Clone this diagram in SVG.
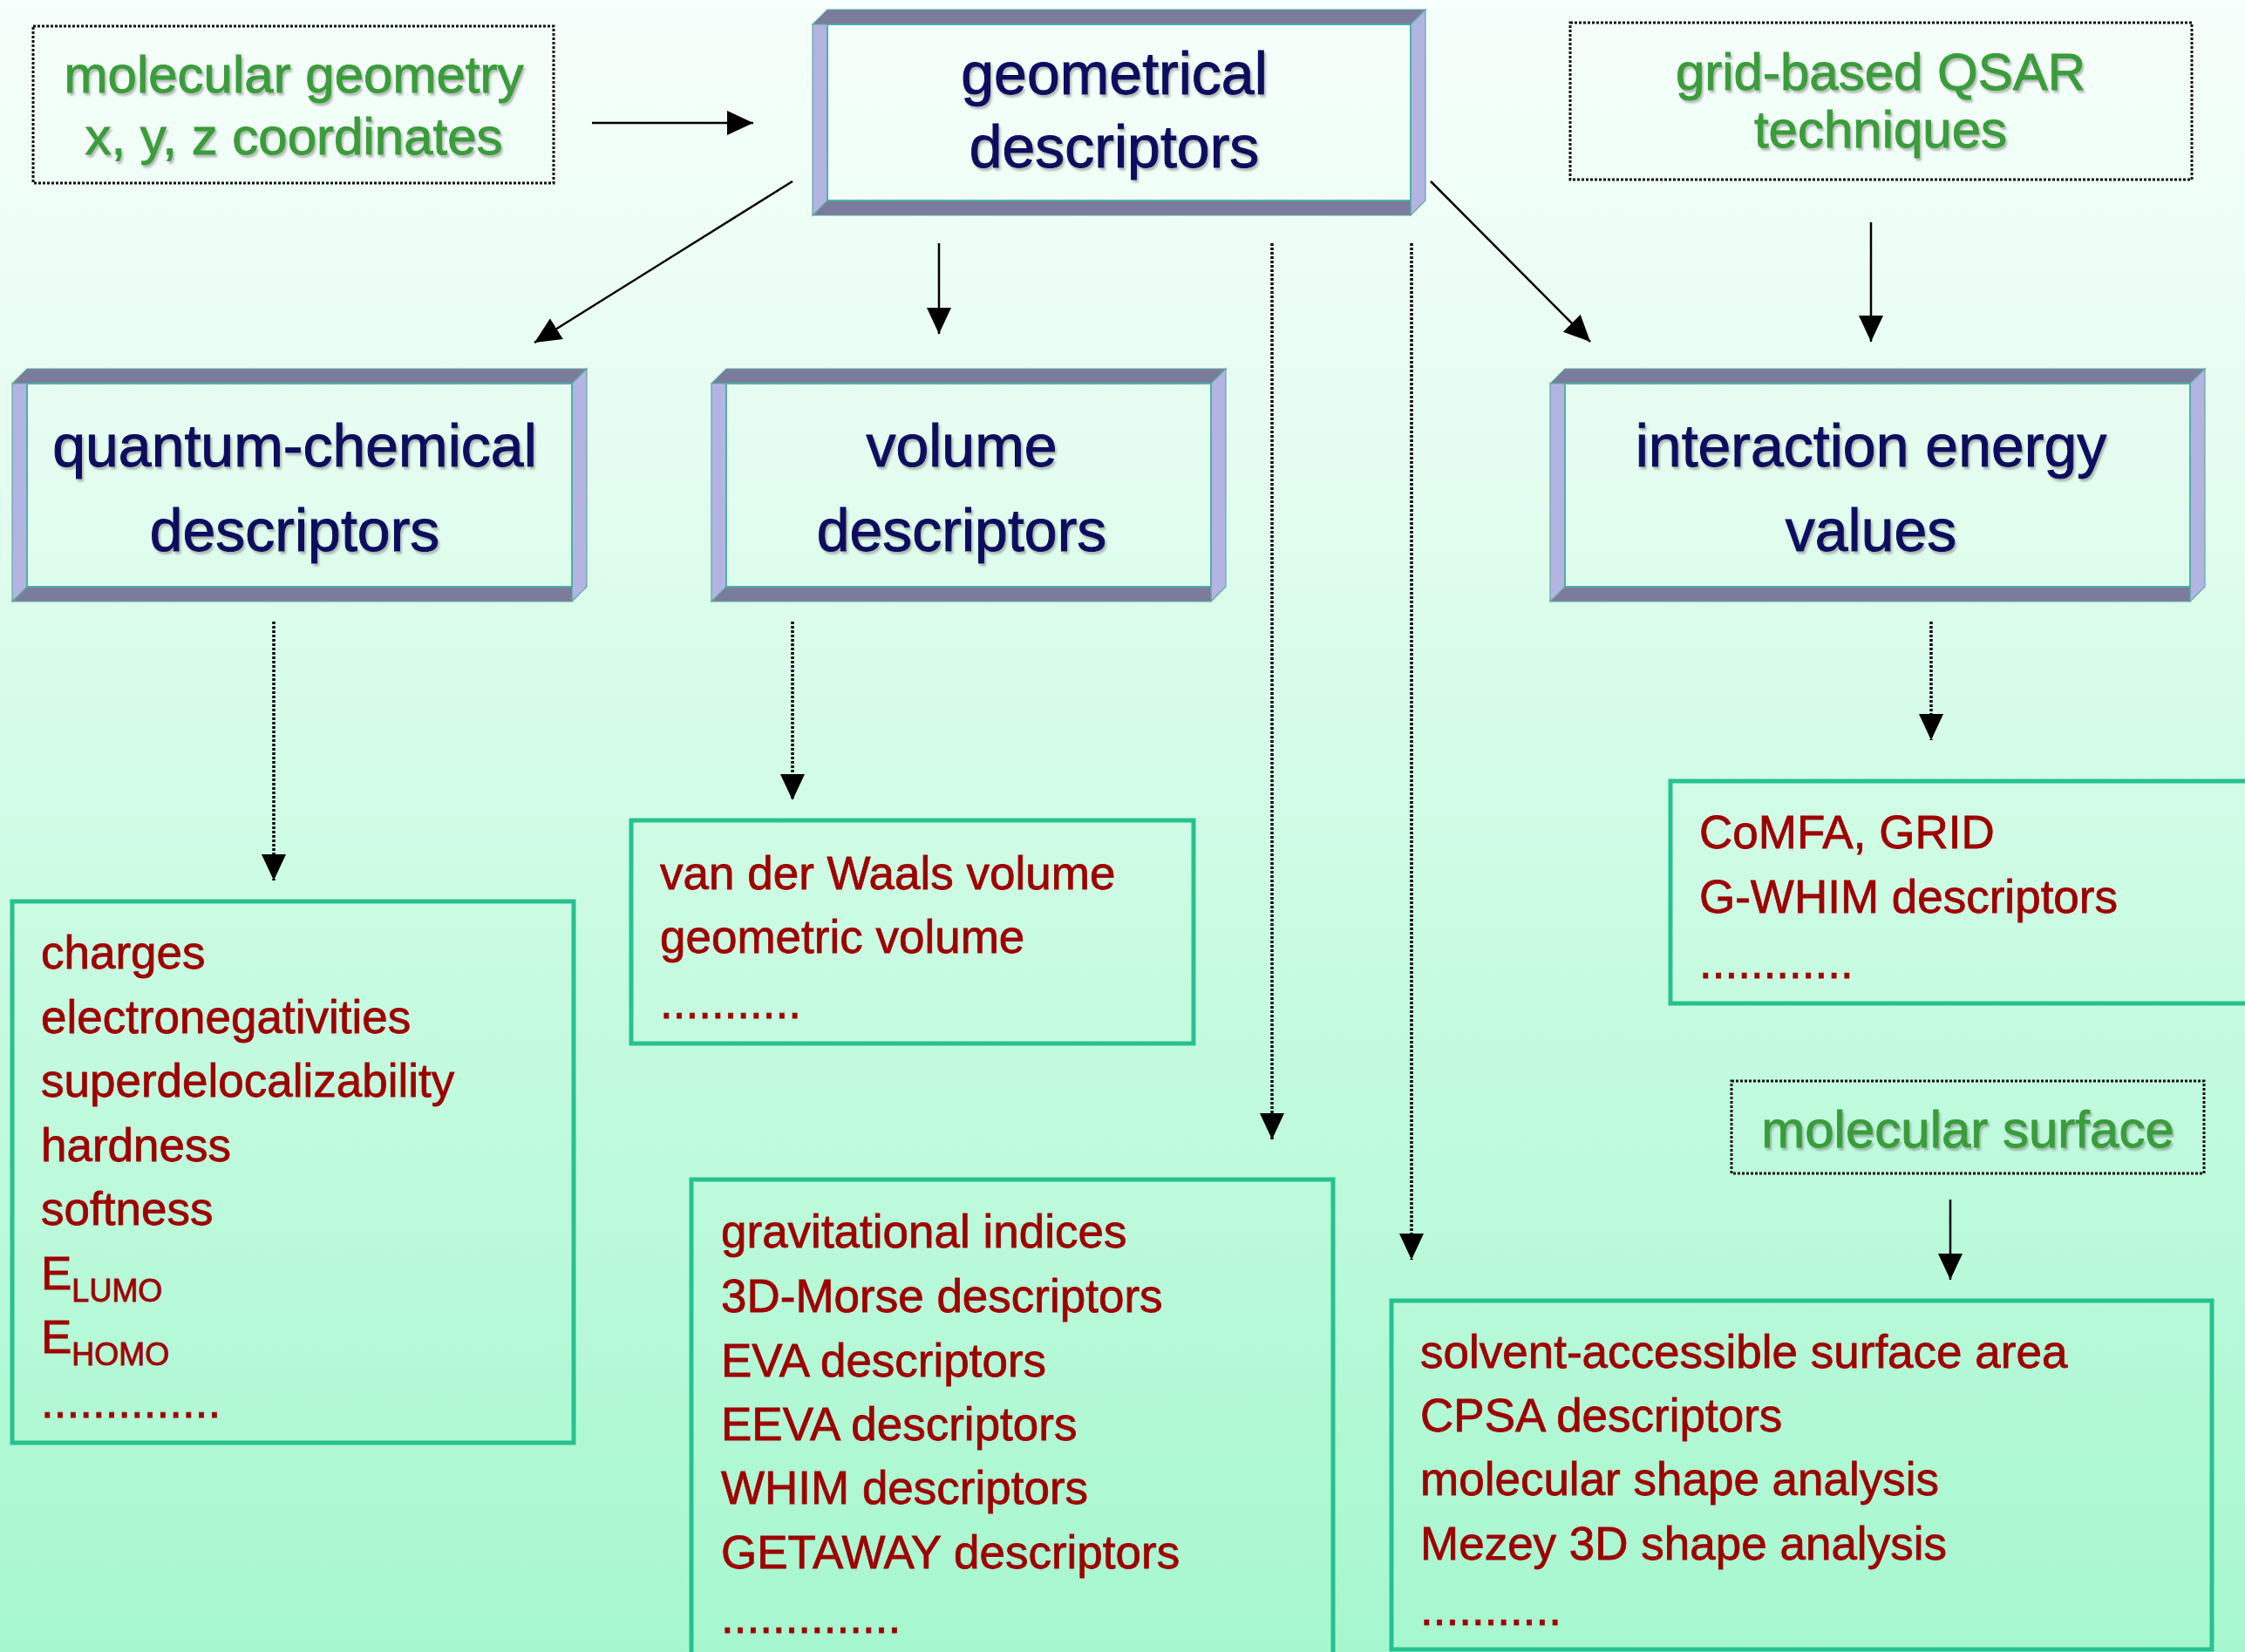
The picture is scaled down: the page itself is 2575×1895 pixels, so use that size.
<svg xmlns="http://www.w3.org/2000/svg" width="2575" height="1895" viewBox="0 0 2575 1895">
  <defs>
    <linearGradient id="bg" x1="0" y1="0" x2="0" y2="1">
      <stop offset="0" stop-color="#f6fffb"/>
      <stop offset="0.25" stop-color="#e7fdf1"/>
      <stop offset="0.6" stop-color="#c6fbe1"/>
      <stop offset="1" stop-color="#a6f7cf"/>
    </linearGradient>
    <filter id="shadow" x="-5%" y="-20%" width="110%" height="140%">
      <feDropShadow dx="2" dy="3" stdDeviation="1.2" flood-color="#6a6a6a" flood-opacity="0.45"/>
    </filter>
    <marker id="arrow" viewBox="0 0 30 28" markerWidth="30" markerHeight="28" refX="30" refY="14" orient="auto" markerUnits="userSpaceOnUse">
      <path d="M0,0 L30,14 L0,28 Z" fill="#000"/>
    </marker>
  </defs>
  <style>
    text { font-family: "Liberation Sans", Arial, Helvetica, sans-serif; }
    .green { font-size: 60px; fill: #3a9c3a; stroke: #3a9c3a; stroke-width: 0.9; text-anchor: middle; filter: url(#shadow); }
    .navy { font-size: 68px; fill: #0a0a5e; stroke: #0a0a5e; stroke-width: 1; text-anchor: middle; filter: url(#shadow); }
    .red { font-size: 53px; fill: #9e0000; stroke: #9e0000; stroke-width: 0.8; }
    .sub { font-size: 36px; }
    .dark { fill: #7b7b9b; stroke: #5fa9a3; stroke-width: 1.2; }
    .light { fill: #b4b4e2; stroke: #5fa9a3; stroke-width: 1.2; }
    .face { fill: none; stroke: #4fb0a8; stroke-width: 2; }
    .list { fill: none; stroke: #27c190; stroke-width: 5; }
    .dashbox { fill: none; stroke: #111; stroke-width: 3; stroke-dasharray: 3 2; }
    .solid { stroke: #000; stroke-width: 2.5; fill: none; marker-end: url(#arrow); }
    .dotted { stroke: #000; stroke-width: 3.5; stroke-dasharray: 3 2; fill: none; marker-end: url(#arrow); }
  </style>

  <rect x="0" y="0" width="2575" height="1895" fill="url(#bg)"/>

  <!-- source: molecular geometry -->
  <g id="molecular-geometry">
    <rect class="dashbox" x="38" y="30" width="597" height="180"/>
    <text class="green" x="337" y="106">molecular geometry</text>
    <text class="green" x="337" y="177">x, y, z coordinates</text>
  </g>

  <!-- central node: geometrical descriptors -->
  <g id="geometrical-descriptors">
    <polygon class="dark" points="949,11 1635,11 1618,28 932,28"/>
    <polygon class="light" points="1618,28 1635,11 1635,230 1618,247"/>
    <polygon class="dark" points="932,247 949,230 1618,230 1618,247"/>
    <polygon class="light" points="932,28 949,28 949,230 932,247"/>
    <rect class="face" x="949" y="28" width="669" height="202"/>
    <text class="navy" x="1278" y="108">geometrical</text>
    <text class="navy" x="1278" y="192">descriptors</text>
  </g>

  <!-- source: grid-based QSAR techniques -->
  <g id="grid-based-qsar">
    <rect class="dashbox" x="1801" y="26" width="713" height="180"/>
    <text class="green" x="2157" y="103">grid-based QSAR</text>
    <text class="green" x="2157" y="169">techniques</text>
  </g>

  <!-- quantum-chemical descriptors -->
  <g id="quantum-chemical">
    <polygon class="dark" points="31,423 673,423 656,440 14,440"/>
    <polygon class="light" points="656,440 673,423 673,673 656,690"/>
    <polygon class="dark" points="14,690 31,673 656,673 656,690"/>
    <polygon class="light" points="14,440 31,440 31,673 14,690"/>
    <rect class="face" x="31" y="440" width="625" height="233"/>
    <text class="navy" x="338" y="535">quantum-chemical</text>
    <text class="navy" x="338" y="632">descriptors</text>
  </g>

  <!-- volume descriptors -->
  <g id="volume">
    <polygon class="dark" points="833,423 1406,423 1389,440 816,440"/>
    <polygon class="light" points="1389,440 1406,423 1406,673 1389,690"/>
    <polygon class="dark" points="816,690 833,673 1389,673 1389,690"/>
    <polygon class="light" points="816,440 833,440 833,673 816,690"/>
    <rect class="face" x="833" y="440" width="556" height="233"/>
    <text class="navy" x="1103" y="535">volume</text>
    <text class="navy" x="1103" y="632">descriptors</text>
  </g>

  <!-- interaction energy values -->
  <g id="interaction-energy">
    <polygon class="dark" points="1795,423 2529,423 2512,440 1778,440"/>
    <polygon class="light" points="2512,440 2529,423 2529,673 2512,690"/>
    <polygon class="dark" points="1778,690 1795,673 2512,673 2512,690"/>
    <polygon class="light" points="1778,440 1795,440 1795,673 1778,690"/>
    <rect class="face" x="1795" y="440" width="717" height="233"/>
    <text class="navy" x="2146" y="535">interaction energy</text>
    <text class="navy" x="2146" y="632">values</text>
  </g>

  <!-- quantum-chemical list -->
  <g id="quantum-list">
    <rect class="list" x="14" y="1034" width="644" height="621"/>
    <text class="red" x="47" y="1111">charges</text>
    <text class="red" x="47" y="1184.5">electronegativities</text>
    <text class="red" x="47" y="1258">superdelocalizability</text>
    <text class="red" x="47" y="1331.5">hardness</text>
    <text class="red" x="47" y="1405">softness</text>
    <text class="red" x="47" y="1478.5">E<tspan class="sub" dy="14">LUMO</tspan></text>
    <text class="red" x="47" y="1552">E<tspan class="sub" dy="14">HOMO</tspan></text>
    <text class="red" x="47" y="1625.5">..............</text>
  </g>

  <!-- volume list -->
  <g id="volume-list">
    <rect class="list" x="724" y="941" width="645" height="256"/>
    <text class="red" x="757" y="1020">van der Waals volume</text>
    <text class="red" x="757" y="1093">geometric volume</text>
    <text class="red" x="757" y="1168">...........</text>
  </g>

  <!-- other geometrical descriptors list -->
  <g id="geometrical-list">
    <rect class="list" x="793" y="1353" width="736" height="560"/>
    <text class="red" x="827" y="1431">gravitational indices</text>
    <text class="red" x="827" y="1505">3D-Morse descriptors</text>
    <text class="red" x="827" y="1579">EVA descriptors</text>
    <text class="red" x="827" y="1652">EEVA descriptors</text>
    <text class="red" x="827" y="1725">WHIM descriptors</text>
    <text class="red" x="827" y="1799">GETAWAY descriptors</text>
    <text class="red" x="827" y="1873">..............</text>
  </g>

  <!-- grid-based list -->
  <g id="grid-list">
    <rect class="list" x="1916" y="896" width="700" height="255"/>
    <text class="red" x="1949" y="973">CoMFA, GRID</text>
    <text class="red" x="1949" y="1047">G-WHIM descriptors</text>
    <text class="red" x="1949" y="1122">............</text>
  </g>

  <!-- source: molecular surface -->
  <g id="molecular-surface">
    <rect class="dashbox" x="1986" y="1240" width="542" height="106"/>
    <text class="green" x="2257" y="1316">molecular surface</text>
  </g>

  <!-- surface list -->
  <g id="surface-list">
    <rect class="list" x="1596" y="1492" width="941" height="400"/>
    <text class="red" x="1629" y="1569">solvent-accessible surface area</text>
    <text class="red" x="1629" y="1642">CPSA descriptors</text>
    <text class="red" x="1629" y="1715">molecular shape analysis</text>
    <text class="red" x="1629" y="1789">Mezey 3D shape analysis</text>
    <text class="red" x="1629" y="1864">...........</text>
  </g>

  <!-- connectors -->
  <g id="connectors">
    <line class="solid" x1="679" y1="141" x2="864" y2="141"/>
    <line class="solid" x1="909" y1="208" x2="613" y2="393"/>
    <line class="solid" x1="1077" y1="279" x2="1077" y2="383"/>
    <line class="solid" x1="1641" y1="208" x2="1824" y2="392"/>
    <line class="solid" x1="2146" y1="255" x2="2146" y2="392"/>
    <line class="dotted" x1="1459" y1="279" x2="1459" y2="1307"/>
    <line class="dotted" x1="1619" y1="279" x2="1619" y2="1445"/>
    <line class="dotted" x1="314" y1="713" x2="314" y2="1010"/>
    <line class="dotted" x1="909" y1="713" x2="909" y2="918"/>
    <line class="dotted" x1="2215" y1="713" x2="2215" y2="849"/>
    <line class="solid" x1="2237" y1="1376" x2="2237" y2="1468"/>
  </g>
</svg>
